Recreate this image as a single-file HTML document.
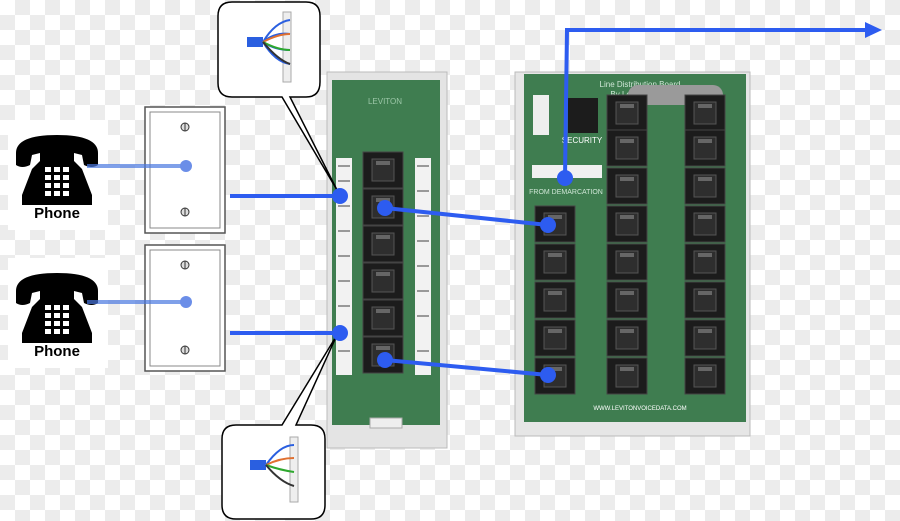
<!DOCTYPE html>
<html><head><style>
html,body{margin:0;padding:0;}
body{width:900px;height:521px;overflow:hidden;background-color:#fff;
background-image:conic-gradient(#ececec 25%,#fff 0 50%,#ececec 0 75%,#fff 0);background-size:30px 30px;}
svg{position:absolute;left:0;top:0;}
text{font-family:"Liberation Sans",sans-serif;}
</style></head><body>
<svg width="900" height="521" viewBox="0 0 900 521">
<defs>
<g id="jack"><rect x="0" y="0" width="40" height="36" fill="#1c1c1c" stroke="#444"/><rect x="9" y="7" width="22" height="22" fill="#2e2e2e" stroke="#555"/><rect x="13" y="9" width="14" height="4" fill="#666"/></g>
<g id="phone">
<path d="M4 28 Q4 10 45 10 Q86 10 86 28 L86 40 Q80 44 72 40 L70 30 L62 28 L62 36 L70 44 L80 70 L80 80 L10 80 L10 70 L20 44 L28 36 L28 28 L20 30 L18 40 Q10 44 4 40 Z" fill="#000"/>
<g fill="#fff"><rect x="33" y="42" width="6" height="5"/><rect x="42" y="42" width="6" height="5"/><rect x="51" y="42" width="6" height="5"/><rect x="33" y="50" width="6" height="5"/><rect x="42" y="50" width="6" height="5"/><rect x="51" y="50" width="6" height="5"/><rect x="33" y="58" width="6" height="5"/><rect x="42" y="58" width="6" height="5"/><rect x="51" y="58" width="6" height="5"/><rect x="33" y="66" width="6" height="5"/><rect x="42" y="66" width="6" height="5"/><rect x="51" y="66" width="6" height="5"/></g>
</g>
<g id="plate"><rect x="0" y="0" width="80" height="126" fill="#fff" stroke="#555" stroke-width="1.5"/><rect x="5" y="5" width="70" height="116" fill="none" stroke="#888"/><circle cx="40" cy="20" r="4" fill="#ddd" stroke="#333"/><line x1="40" y1="16" x2="40" y2="24" stroke="#333"/><circle cx="40" cy="105" r="4" fill="#ddd" stroke="#333"/><line x1="40" y1="101" x2="40" y2="109" stroke="#333"/></g>
<g id="bub"><rect x="0" y="0" width="30" height="6" fill="#2a5fe0"/></g>
</defs>

<!-- phones -->
<rect x="8" y="120" width="100" height="110" fill="#fff"/>
<use href="#phone" x="12" y="125"/>
<text x="57" y="218" font-size="15" font-weight="bold" text-anchor="middle">Phone</text>
<rect x="8" y="258" width="100" height="110" fill="#fff"/>
<use href="#phone" x="12" y="263"/>
<text x="57" y="356" font-size="15" font-weight="bold" text-anchor="middle">Phone</text>

<use href="#plate" x="145" y="107"/>
<use href="#plate" x="145" y="245"/>
<line x1="87" y1="166" x2="185" y2="166" stroke="#4a78e0" stroke-width="4" opacity="0.7"/>
<line x1="87" y1="302" x2="185" y2="302" stroke="#4a78e0" stroke-width="4" opacity="0.7"/>
<circle cx="186" cy="166" r="6" fill="#6b8ee8"/><circle cx="186" cy="302" r="6" fill="#6b8ee8"/>

<!-- middle panel -->
<rect x="327" y="72" width="120" height="376" fill="#e4e4e4" stroke="#bbb"/>
<rect x="332" y="80" width="108" height="345" fill="#3f7d50"/>
<text x="385" y="104" font-size="8" fill="#9cc7a8" text-anchor="middle">LEVITON</text>
<rect x="336" y="158" width="16" height="217" fill="#f2f2f2"/>
<rect x="415" y="158" width="16" height="217" fill="#f2f2f2"/>
<g fill="#999"><rect x="338" y="165" width="12" height="2"/><rect x="338" y="180" width="12" height="2"/><rect x="338" y="205" width="12" height="2"/><rect x="338" y="230" width="12" height="2"/><rect x="338" y="255" width="12" height="2"/><rect x="338" y="280" width="12" height="2"/><rect x="338" y="305" width="12" height="2"/><rect x="338" y="350" width="12" height="2"/>
<rect x="417" y="165" width="12" height="2"/><rect x="417" y="190" width="12" height="2"/><rect x="417" y="215" width="12" height="2"/><rect x="417" y="240" width="12" height="2"/><rect x="417" y="265" width="12" height="2"/><rect x="417" y="290" width="12" height="2"/><rect x="417" y="315" width="12" height="2"/><rect x="417" y="350" width="12" height="2"/></g>
<use href="#jack" x="363" y="152"/><use href="#jack" x="363" y="189"/><use href="#jack" x="363" y="226"/><use href="#jack" x="363" y="263"/><use href="#jack" x="363" y="300"/><use href="#jack" x="363" y="337"/>
<rect x="370" y="418" width="32" height="10" fill="#eee" stroke="#aaa"/>

<!-- right panel -->
<rect x="515" y="72" width="235" height="364" fill="#e6e6e6" stroke="#bbb"/>
<rect x="524" y="74" width="222" height="348" fill="#3f7d50"/>
<text x="640" y="87" font-size="8" fill="#cfe6d6" text-anchor="middle">Line Distribution Board</text>
<text x="640" y="97" font-size="8" fill="#cfe6d6" text-anchor="middle">By Leviton Voice</text>
<rect x="533" y="95" width="16" height="40" fill="#eee"/>
<rect x="568" y="98" width="30" height="35" fill="#1c1c1c"/>
<text x="582" y="143" font-size="8" fill="#fff" text-anchor="middle">SECURITY</text>
<rect x="532" y="165" width="70" height="13" fill="#f0f0f0"/>
<text x="566" y="194" font-size="7" fill="#cfe6d6" text-anchor="middle">FROM DEMARCATION</text>
<rect x="628" y="85" width="95" height="20" rx="10" fill="#9a9a9a"/>
<use href="#jack" x="607" y="95"/><use href="#jack" x="685" y="95"/>
<use href="#jack" x="607" y="130"/><use href="#jack" x="607" y="168"/><use href="#jack" x="607" y="206"/><use href="#jack" x="607" y="244"/><use href="#jack" x="607" y="282"/><use href="#jack" x="607" y="320"/><use href="#jack" x="607" y="358"/>
<use href="#jack" x="685" y="130"/><use href="#jack" x="685" y="168"/><use href="#jack" x="685" y="206"/><use href="#jack" x="685" y="244"/><use href="#jack" x="685" y="282"/><use href="#jack" x="685" y="320"/><use href="#jack" x="685" y="358"/>
<use href="#jack" x="535" y="206"/><use href="#jack" x="535" y="244"/><use href="#jack" x="535" y="282"/><use href="#jack" x="535" y="320"/><use href="#jack" x="535" y="358"/>
<text x="640" y="410" font-size="6" fill="#fff" text-anchor="middle">WWW.LEVITONVOICEDATA.COM</text>

<!-- callouts -->
<path d="M232 2 H306 Q320 2 320 16 V82 Q320 97 306 97 H290 L337 190 L282 97 H232 Q218 97 218 83 V16 Q218 2 232 2 Z" fill="#fff" stroke="#000" stroke-width="1.5"/>
<path d="M236 425 H282 L337 335 L296 425 H311 Q325 425 325 439 V505 Q325 519 311 519 H236 Q222 519 222 505 V439 Q222 425 236 425 Z" fill="#fff" stroke="#000" stroke-width="1.5"/>
<rect x="247" y="37" width="16" height="10" fill="#2a5fe0"/><rect x="283" y="12" width="8" height="70" fill="#eee" stroke="#aaa"/>
<path d="M263 42 Q275 22 290 20 M263 42 Q275 32 290 34 M263 42 Q275 50 290 50 M263 42 Q275 62 290 64" stroke="#2a5fe0" stroke-width="2" fill="none"/>
<path d="M263 42 Q278 34 290 34" stroke="#e07030" stroke-width="2" fill="none"/><path d="M263 42 Q278 50 290 50" stroke="#2ea82e" stroke-width="2" fill="none"/><path d="M263 42 Q278 60 290 64" stroke="#333" stroke-width="2" fill="none"/>
<rect x="250" y="460" width="16" height="10" fill="#2a5fe0"/><rect x="290" y="437" width="8" height="65" fill="#eee" stroke="#aaa"/>
<path d="M266 465 Q280 445 294 445" stroke="#2a5fe0" stroke-width="2" fill="none"/><path d="M266 465 Q280 458 294 458" stroke="#e07030" stroke-width="2" fill="none"/><path d="M266 465 Q280 470 294 472" stroke="#2ea82e" stroke-width="2" fill="none"/><path d="M266 465 Q280 482 294 486" stroke="#333" stroke-width="2" fill="none"/>

<!-- blue connectors -->
<g stroke="#2d5cf0" stroke-width="4" fill="none">
<line x1="230" y1="196" x2="340" y2="196"/><line x1="230" y1="333" x2="340" y2="333"/>
<line x1="385" y1="208" x2="548" y2="225"/><line x1="385" y1="360" x2="548" y2="375"/>
<polyline points="565,178 567,30 868,30"/>
</g>
<polygon points="865,22 882,30 865,38" fill="#2d5cf0"/>
<g fill="#2d5cf0"><circle cx="340" cy="196" r="8"/><circle cx="340" cy="333" r="8"/><circle cx="385" cy="208" r="8"/><circle cx="385" cy="360" r="8"/><circle cx="548" cy="225" r="8"/><circle cx="548" cy="375" r="8"/><circle cx="565" cy="178" r="8"/></g>
</svg>
</body></html>
